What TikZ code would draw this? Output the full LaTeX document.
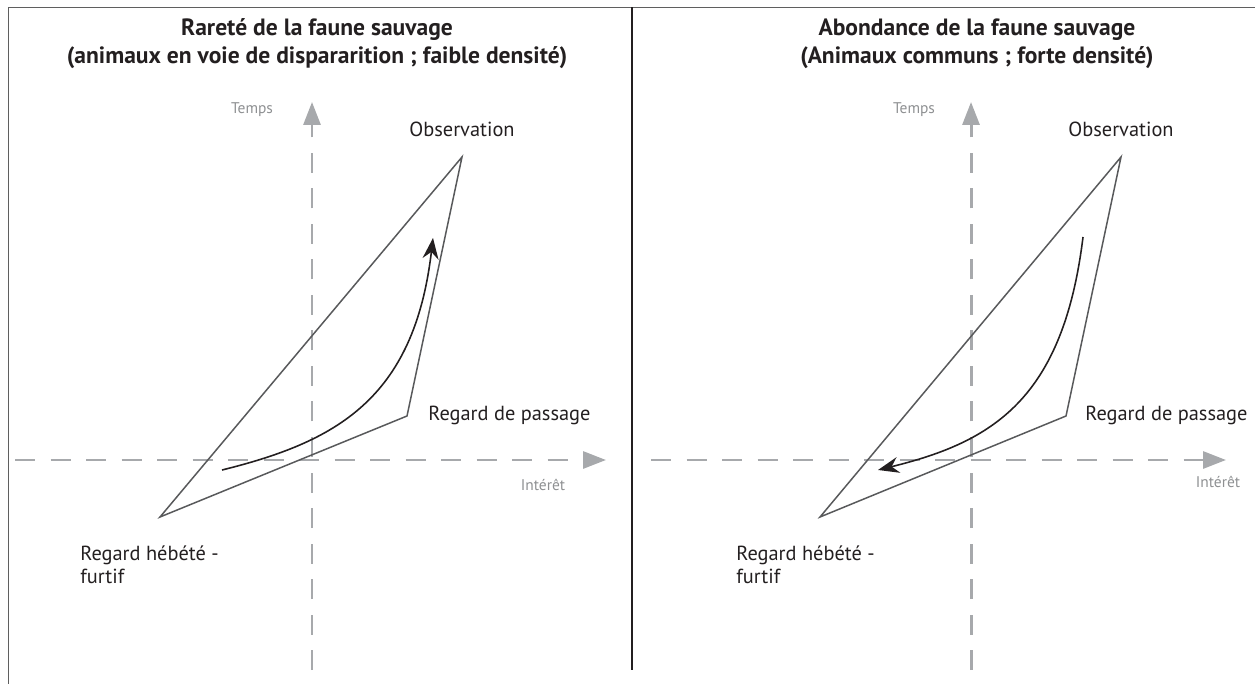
\documentclass[tikz,border=0pt]{standalone}
\usepackage{fontspec}
\setmainfont{PT Sans}
\usetikzlibrary{arrows.meta,positioning}
\definecolor{CadreGris}{RGB}{95,95,95}
\definecolor{TexteNoir}{RGB}{35,31,32}
\definecolor{AxeGris}{RGB}{167,169,172}
\definecolor{ZoneGris}{RGB}{88,89,91}
\tikzset{
  titre/.style={font=\fontsize{13.4}{16}\selectfont\bfseries, text=TexteNoir, align=center, inner sep=0pt},
  etiquette/.style={font=\fontsize{11.6}{13.2}\selectfont, text=TexteNoir, align=left, inner sep=0pt},
  axelabel/.style={font=\fontsize{8.8}{10}\selectfont, text=AxeGris!85!black, inner sep=0pt},
  % axes en tirets gris, flèche pleine au bout
  axe/.style={AxeGris, line width=1.7pt, dash pattern=on 4mm off 3.1mm,
              -{Triangle[length=4.6mm, width=3.4mm, sep=0pt]}},
  zone/.style={ZoneGris, line width=0.85pt, line join=miter},
  parcours/.style={TexteNoir, line width=0.9pt, -{Stealth[length=4.2mm, width=3.2mm, inset=1.4mm]}},
  cadre/.style={CadreGris, line width=1.1pt},
}

\begin{document}
\begin{tikzpicture}[x=0.2mm, y=-0.2mm]
  \useasboundingbox (0,0) rectangle (1255,684);

  % --- Cadre et séparation ----------------------------------------------------
  \coordinate (hautgauche) at (8.5,7.5);
  \coordinate (hautdroit)  at (1255,7.5);
  \coordinate (basgauche)  at (8.5,684);
  \coordinate (sephaut)    at (632,7.5);
  \coordinate (sepbas)     at (632,670);
  \draw[cadre] (basgauche) -- (hautgauche) -- (hautdroit);
  \draw[TexteNoir, line width=1.2pt] (sephaut) -- (sepbas);

  % --- Rareté (panneau gauche) ----------------------------------------------
  \node[titre] (titreA) at (317,44) {Rareté de la faune sauvage\\(animaux en voie de dispararition ; faible densité)};

  \coordinate (tA0) at (312,670);
  \coordinate (tA1) at (312,102);
  \coordinate (iA0) at (15,460);
  \coordinate (iA1) at (606,460);
  \draw[axe] (tA0) -- (tA1);
  \draw[axe] (iA0) -- (iA1);
  \node[axelabel] (tempsA)   at (252,110) {Temps};
  \node[axelabel] (interetA) at (543,485) {Intérêt};

  \coordinate (obsA)  at (462,157);
  \coordinate (passA) at (407,416);
  \coordinate (hebA)  at (160,517);
  \draw[zone] (hebA) -- (obsA) -- (passA) -- cycle;

  \node[etiquette] (labobsA)  at (462,129) {Observation};
  \node[etiquette, anchor=west] (labpassA) at (428,415) {Regard de passage};
  \node[etiquette, anchor=north west] (labhebA) at (80,545) {Regard hébété -\\furtif};

  \coordinate (debA) at (222,470);
  \coordinate (finA) at (433,238);
  \draw[parcours] (debA) .. controls (335,442) and (414,400) .. (finA);

  % --- Abondance (panneau droit) ---------------------------------------------
  \node[titre] (titreB) at (977,44) {Abondance de la faune sauvage\\(Animaux communs ; forte densité)};

  \coordinate (tB0) at (971,670);
  \coordinate (tB1) at (971,102);
  \coordinate (iB0) at (651,460);
  \coordinate (iB1) at (1226,460);
  \draw[axe] (tB0) -- (tB1);
  \draw[axe] (iB0) -- (iB1);
  \node[axelabel] (tempsB)   at (914,110) {Temps};
  \node[axelabel] (interetB) at (1218,482) {Intérêt};

  \coordinate (obsB)  at (1121,157);
  \coordinate (passB) at (1066,416);
  \coordinate (hebB)  at (820,517);
  \draw[zone] (hebB) -- (obsB) -- (passB) -- cycle;

  \node[etiquette] (labobsB)  at (1121,129) {Observation};
  \node[etiquette, anchor=west] (labpassB) at (1085,415) {Regard de passage};
  \node[etiquette, anchor=north west] (labhebB) at (736,545) {Regard hébété -\\furtif};

  \coordinate (debB) at (1083,237);
  \coordinate (finB) at (878,470);
  \draw[parcours] (debB) .. controls (1063,400) and (992,442) .. (finB);

\end{tikzpicture}
\end{document}
